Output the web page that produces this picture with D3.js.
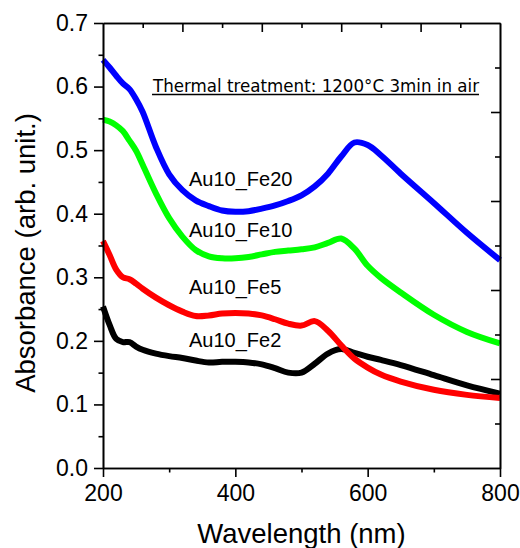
<!DOCTYPE html>
<meta charset="utf-8">
<html>
<head>
<script src="https://cdn.jsdelivr.net/npm/d3@7"></script>
<style>
  body { margin: 0; background: #fff; }
  text { font-family: "Liberation Sans", Arial, sans-serif; fill: #000; }
</style>
</head>
<body>
<svg width="520" height="548"></svg>
<script>

// wavelength grid (nm) shared by all spectra
var wavelengths = [200, 210, 220, 230, 240, 250, 260, 280, 300, 320, 340, 360, 380, 400, 420,
                   440, 460, 480, 500, 520, 540, 560, 580, 600, 620, 650, 700, 750, 800];

var fe20 = [0.642, 0.630, 0.617, 0.605, 0.596, 0.580, 0.560, 0.505, 0.462, 0.437, 0.421, 0.412, 0.405, 0.403, 0.404,
            0.408, 0.413, 0.420, 0.429, 0.443, 0.463, 0.490, 0.512, 0.508, 0.492, 0.463, 0.417, 0.370, 0.327];
var fe10 = [0.548, 0.545, 0.539, 0.530, 0.515, 0.499, 0.477, 0.432, 0.393, 0.364, 0.343, 0.333, 0.330, 0.330, 0.332,
            0.336, 0.340, 0.342, 0.344, 0.347, 0.354, 0.361, 0.345, 0.318, 0.299, 0.276, 0.241, 0.214, 0.196];
var fe5  = [0.357, 0.335, 0.312, 0.300, 0.297, 0.290, 0.282, 0.268, 0.256, 0.246, 0.239, 0.240, 0.243, 0.244, 0.243,
            0.240, 0.234, 0.227, 0.224, 0.231, 0.216, 0.193, 0.172, 0.158, 0.147, 0.136, 0.123, 0.115, 0.110];
var fe2  = [0.254, 0.225, 0.203, 0.198, 0.198, 0.191, 0.186, 0.180, 0.176, 0.173, 0.169, 0.166, 0.167, 0.167, 0.166,
            0.163, 0.157, 0.150, 0.150, 0.164, 0.180, 0.187, 0.181, 0.175, 0.170, 0.162, 0.146, 0.130, 0.117];

var seriesNames  = ["Au10_Fe2", "Au10_Fe5", "Au10_Fe10", "Au10_Fe20"];
var seriesValues = [fe2, fe5, fe10, fe20];
var seriesColors = ["#000000", "#ff0000", "#00ff00", "#0000ff"];
// label anchor: [wavelength, absorbance] at the start of the text baseline
var labelPos = [[330, 0.191], [330, 0.274], [330, 0.363], [330, 0.443]];

var xTicks = [200, 400, 600, 800];
var yTicks = [0.0, 0.1, 0.2, 0.3, 0.4, 0.5, 0.6, 0.7];
var note = "Thermal treatment: 1200\u00B0C 3min in air";

var svg = d3.select("svg"),
    margin = {top: 23, right: 20, bottom: 80, left: 103},
    width = +svg.attr("width"),
    height = +svg.attr("height");

var x = d3.scaleLinear().domain([200, 800]).range([margin.left, width - margin.right]);
var y = d3.scaleLinear().domain([0, 0.7]).range([height - margin.bottom, margin.top]);
// unlabeled frame scales on top and right
var xTop = d3.scaleLinear().domain([0, 10]).range(x.range());
var yRight = d3.scaleLinear().domain([0, 10]).range(y.range());

var line = d3.line()
    .x(function(d) { return x(d[0]); })
    .y(function(d) { return y(d[1]); })
    .curve(d3.curveCatmullRom.alpha(0.5));

seriesValues.forEach(function(vals, i) {
  svg.append("path")
      .datum(wavelengths.map(function(w, j) { return [w, vals[j]]; }))
      .attr("fill", "none")
      .attr("stroke", seriesColors[i])
      .attr("stroke-width", 6)
      .attr("stroke-linejoin", "round")
      .attr("d", line);
});

function styleAxis(g) {
  g.selectAll("path, line").attr("stroke", "#000").attr("stroke-width", 1.6);
  g.selectAll("text").attr("font-size", 23).attr("font-family", "Liberation Sans, Arial, sans-serif").attr("fill", "#000");
}

// bottom: major labelled, minor ticks
svg.append("g")
    .attr("transform", "translate(0," + y(0) + ")")
    .call(d3.axisBottom(x).tickValues(d3.range(300, 800, 200)).tickSize(4.5).tickSizeOuter(0).tickFormat(""))
    .call(styleAxis);
svg.append("g")
    .attr("transform", "translate(0," + y(0) + ")")
    .call(d3.axisBottom(x).tickValues(xTicks).tickSize(9).tickPadding(8).tickSizeOuter(0).tickFormat(d3.format("d")))
    .call(styleAxis);

// left
svg.append("g")
    .attr("transform", "translate(" + x(200) + ",0)")
    .call(d3.axisLeft(y).tickValues(d3.range(0.05, 0.7, 0.1)).tickSize(4.5).tickSizeOuter(0).tickFormat(""))
    .call(styleAxis);
svg.append("g")
    .attr("transform", "translate(" + x(200) + ",0)")
    .call(d3.axisLeft(y).tickValues(yTicks).tickSize(9).tickPadding(6).tickSizeOuter(0).tickFormat(d3.format(".1f")))
    .call(styleAxis);

// top (inward ticks, no labels)
svg.append("g")
    .attr("transform", "translate(0," + y(0.7) + ")")
    .call(d3.axisTop(xTop).tickValues([1, 3, 5, 7, 9]).tickSize(-5).tickSizeOuter(0).tickFormat(""))
    .call(styleAxis);
svg.append("g")
    .attr("transform", "translate(0," + y(0.7) + ")")
    .call(d3.axisTop(xTop).tickValues([2, 4, 6, 8]).tickSize(-9).tickSizeOuter(0).tickFormat(""))
    .call(styleAxis);

// right (inward ticks, no labels)
svg.append("g")
    .attr("transform", "translate(" + x(800) + ",0)")
    .call(d3.axisRight(yRight).tickValues([1, 3, 5, 7, 9]).tickSize(-5).tickSizeOuter(0).tickFormat(""))
    .call(styleAxis);
svg.append("g")
    .attr("transform", "translate(" + x(800) + ",0)")
    .call(d3.axisRight(yRight).tickValues([2, 4, 6, 8]).tickSize(-9).tickSizeOuter(0).tickFormat(""))
    .call(styleAxis);

// axis titles
svg.append("text")
    .attr("x", (x.range()[0] + x.range()[1]) / 2)
    .attr("y", 543)
    .attr("text-anchor", "middle")
    .attr("font-size", 27.5)
    .text("Wavelength (nm)");

svg.append("text")
    .attr("transform", "translate(35," + 253 + ") rotate(-90)")
    .attr("text-anchor", "middle")
    .attr("font-size", 27.5)
    .text("Absorbance (arb. unit.)");

// series labels
seriesNames.forEach(function(name, i) {
  svg.append("text")
      .attr("x", x(labelPos[i][0]))
      .attr("y", y(labelPos[i][1]))
      .attr("font-size", 20)
      .text(name);
});

// annotation with underline
var noteText = svg.append("text")
    .attr("x", 153)
    .attr("y", 92)
    .attr("font-size", 17)
    .style("font-family", "DejaVu Sans, Verdana, sans-serif")
    .attr("textLength", 326)
    .attr("lengthAdjust", "spacingAndGlyphs")
    .text(note);
var nb = noteText.node().getBBox();
svg.append("line")
    .attr("x1", nb.x).attr("x2", nb.x + nb.width)
    .attr("y1", 94.5).attr("y2", 94.5)
    .attr("stroke", "#000")
    .attr("stroke-width", 1.4);

</script>
</body>
</html>
